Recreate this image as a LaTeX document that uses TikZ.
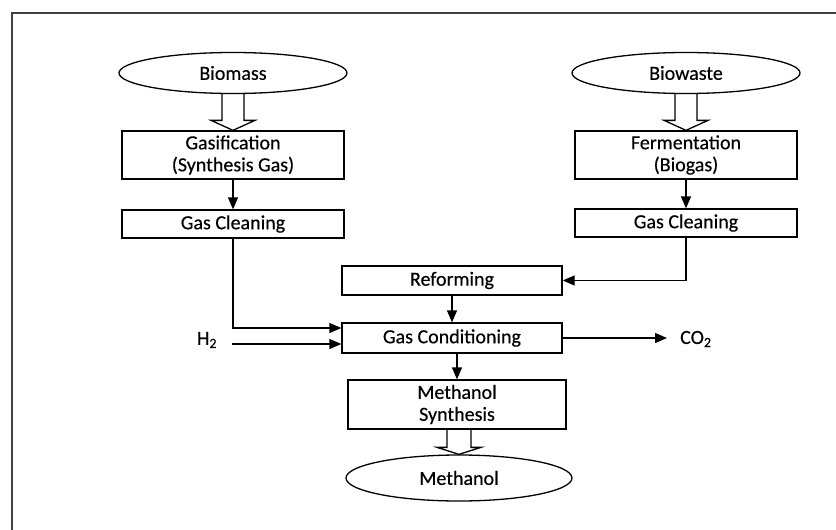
\documentclass[tikz,border=0pt]{standalone}
\usepackage{fontspec}
\setmainfont{Carlito}[FakeBold=0.4]
\usetikzlibrary{arrows.meta,calc,shapes.geometric}
\newcommand{\fatarrow}[5]{\draw[fat] let \p1=(#1), \p2=(#2) in (\x2-#4pt,\y1) -- (\x2-#4pt,\y2+#3pt) -- (\x2-#5pt,\y2+#3pt) -- (\x2,\y2) -- (\x2+#5pt,\y2+#3pt) -- (\x2+#4pt,\y2+#3pt) -- (\x2+#4pt,\y1);}
\begin{document}
\begin{tikzpicture}[x=1pt,y=-1pt,
  every node/.style={font=\fontsize{20}{22}\selectfont, inner sep=0pt},
  box/.style={draw, line width=1.3pt, rectangle, minimum width=222pt, align=center},
  oval/.style={draw, line width=1.3pt, ellipse, minimum width=228pt, minimum height=41pt},
  arr/.style={line width=1.3pt, -{Triangle[length=12pt,width=10pt]}},
  fat/.style={line width=1.3pt, draw, line join=miter},
  frame/.style={line width=1.5pt, draw=black!75}]
\useasboundingbox (0,0) rectangle (836,530);
\draw[frame] (12,530) -- (12,13) -- (836,13);

\node[oval] (bm) at (233,73) {Biomass};
\node[oval] (bw) at (686,73) {Biowaste};
\node[box, minimum height=48pt] (gas) at (233,155) {Gasification\\(Synthesis Gas)};
\node[box, minimum height=28pt] (gc1) at (233,224) {Gas Cleaning};
\node[box, minimum height=48pt] (fer) at (686,155) {Fermentation\\(Biogas)};
\node[box, minimum height=28pt] (gc2) at (686,223) {Gas Cleaning};
\node[box, minimum width=220pt, minimum height=29pt] (ref) at (452,280.5) {Reforming};
\node[box, minimum width=220pt, minimum height=30pt] (cond) at (452,338) {Gas Conditioning};
\node[box, minimum width=218pt, minimum height=49pt] (ms) at (457,404.5) {Methanol\\Synthesis};
\node[oval, minimum width=226pt, minimum height=46pt] (meth) at (459,478) {Methanol};
\node (h2) at (207,340) {H\textsubscript{2}};
\node[anchor=west] (co2) at (680,339) {CO\textsubscript{2}};
\coordinate (h2s) at (232,344);
\coordinate (co2e) at (667,338);

\fatarrow{bm.south}{gas.north}{10}{11}{22}
\fatarrow{bw.south}{fer.north}{10}{11}{22}
\fatarrow{ms.south}{meth.north}{7}{12}{22}

\draw[arr] (gas) -- (gc1);
\draw[arr] (fer) -- (gc2);
\draw[arr] (gc1.south) |- ($(cond.west)+(0,-10)$);
\draw[arr] (h2s) -- (h2s -| cond.west);
\draw[arr] (gc2.south) |- (ref.east);
\draw[arr] (ref) -- (cond);
\draw[arr] (cond.east) -- (cond.east -| co2e);
\draw[arr] (ms.north |- cond.south) -- (ms.north);
\end{tikzpicture}
\end{document}
